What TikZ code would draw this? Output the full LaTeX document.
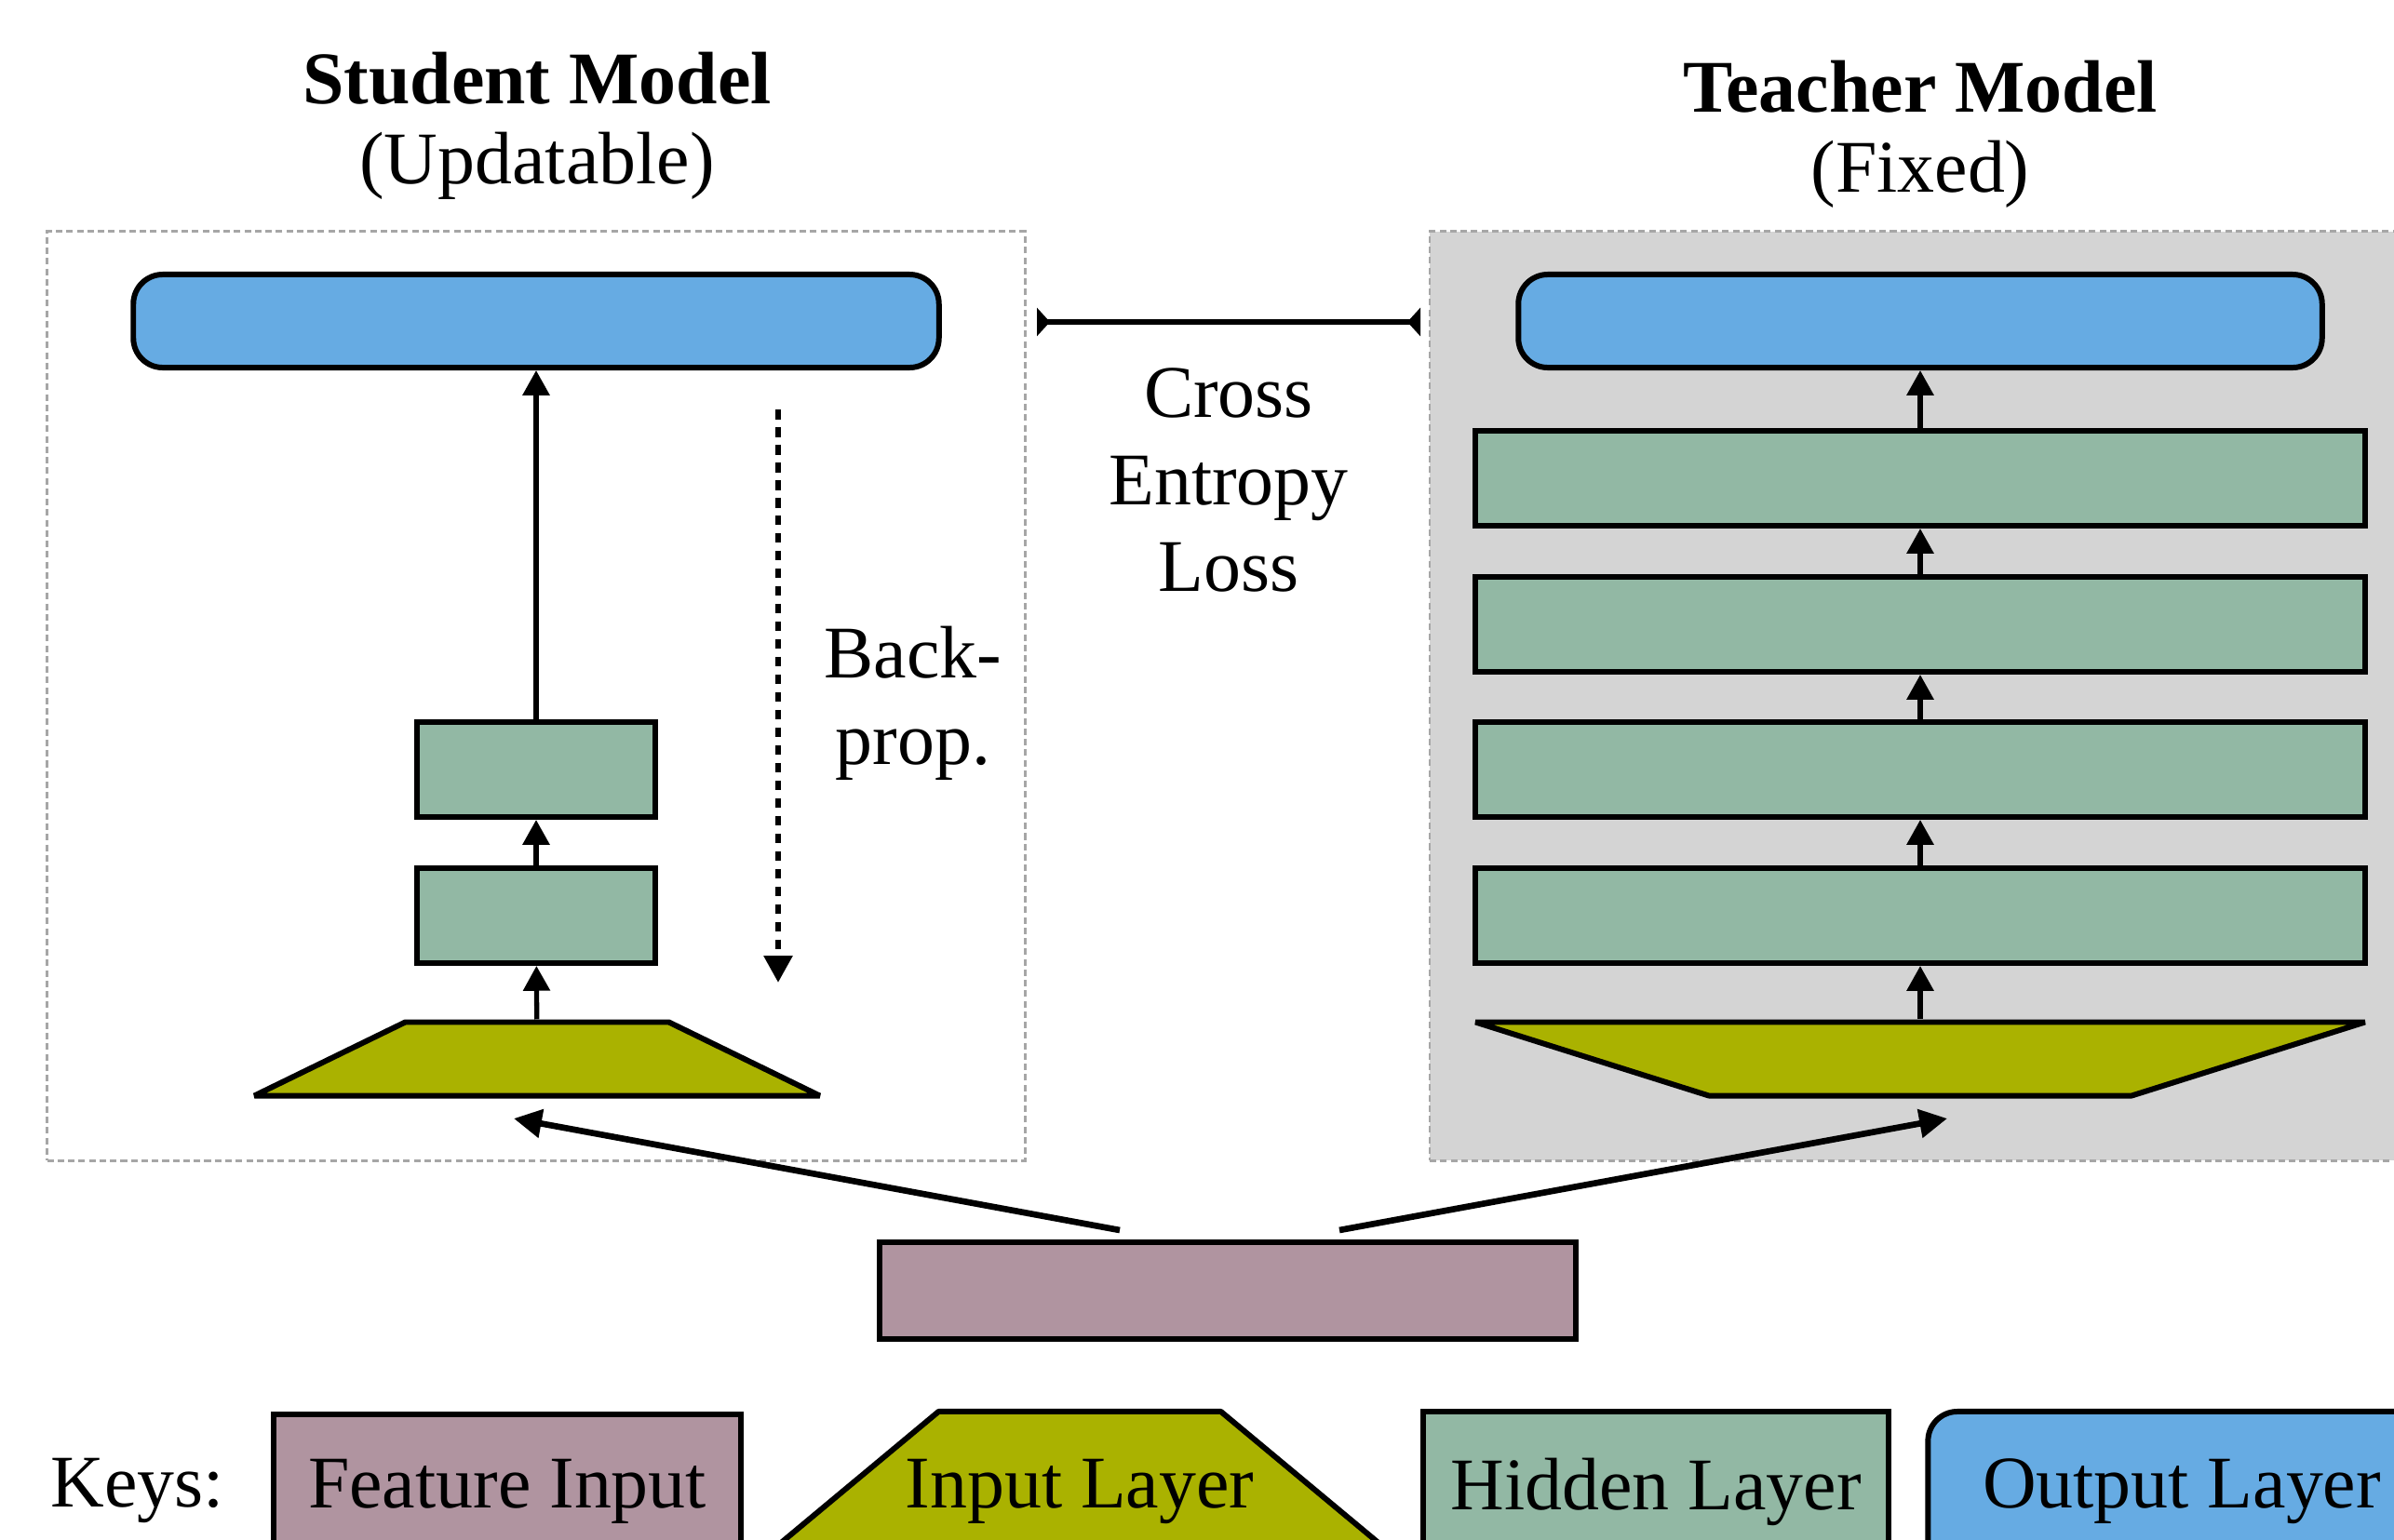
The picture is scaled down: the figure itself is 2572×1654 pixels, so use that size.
\documentclass[tikz,border=0pt]{standalone}
\usepackage{fontspec}
\setmainfont{Liberation Serif}
\usetikzlibrary{arrows.meta,shapes.geometric}

\definecolor{outblue}{RGB}{102,171,227}
\definecolor{hidgreen}{RGB}{146,184,164}
\definecolor{inolive}{RGB}{170,178,0}
\definecolor{featmauve}{RGB}{176,148,160}
\definecolor{fixedgray}{RGB}{212,212,212}

\begin{document}
\begin{tikzpicture}[x=0.01cm, y=-0.01cm,
    every node/.style={font=\fontsize{22.7}{26.5}\selectfont},
    hidden/.style={rectangle, draw, line width=1.7pt, fill=hidgreen, minimum height=1.02cm, inner sep=0pt},
    output/.style={rectangle, rounded corners=9pt, draw, line width=1.7pt, fill=outblue, minimum height=1cm, inner sep=0pt},
    input/.style={trapezium, trapezium stretches body=true, draw, line width=1.7pt, line join=bevel, fill=inolive, inner sep=0pt, text depth=0cm},
    feature/.style={rectangle, draw, line width=1.7pt, fill=featmauve, minimum height=1.04cm, inner sep=0pt},
    frame/.style={draw=gray!70, dash pattern=on 2pt off 1.2pt, line width=0.7pt, inner sep=0pt},
    flow/.style={-{Triangle[length=7.6pt,width=8pt]}, line width=1.5pt},
    feed/.style={-{Triangle[length=8.5pt,width=8.5pt]}, line width=1.9pt},
    loss/.style={{Triangle[reversed,length=4pt,width=8.5pt]}-{Triangle[reversed,length=4pt,width=8.5pt]}, line width=1.5pt},
    back/.style={-{Triangle[length=8.2pt,width=8.4pt]}, line width=1.9pt, dash pattern=on 3pt off 2.4pt},
]

    \useasboundingbox (0, 0) rectangle (2572, 1654);
    \clip (0, 0) rectangle (2572, 1654);

    \node[frame, minimum width=10.5cm, minimum height=9.98cm] (sbox) at (576, 748) {};
    \node[frame, fill=fixedgray, minimum width=10.73cm, minimum height=9.98cm] (tbox) at (2073, 748) {};

    \node[align=center] (stitle) at (577, 135) {\textbf{Student Model}\\[-0.07cm](Updatable)};
    \node[align=center] (ttitle) at (2063, 144) {\textbf{Teacher Model}\\[-0.07cm](Fixed)};

    \node[output, minimum width=8.65cm] (outS) at (576, 345) {};
    \node[hidden, minimum width=2.55cm] (S2) at (576, 827) {};
    \node[hidden, minimum width=2.55cm] (S1) at (576, 984) {};
    \node[input, trapezium angle=26, minimum width=6.07cm, text height=0.79cm] (inS) at (577, 1138) {};

    \node[output, minimum width=8.63cm] (outT) at (2063, 345) {};
    \node[hidden, minimum width=9.55cm] (T4) at (2063, 514) {};
    \node[hidden, minimum width=9.55cm] (T3) at (2063, 671) {};
    \node[hidden, minimum width=9.55cm] (T2) at (2063, 827) {};
    \node[hidden, minimum width=9.55cm] (T1) at (2063, 984) {};
    \node[input, trapezium angle=17.5, shape border rotate=180, minimum width=9.55cm, text height=0.79cm] (inT) at (2063, 1138) {};

    \node[feature, minimum width=7.47cm] (feat) at (1319, 1387) {};

    \draw[flow] (inS) -- (S1); % input -> hidden
    \draw[flow] (S1) -- (S2);  % hidden -> hidden
    \draw[flow] (S2) -- (outS); % hidden -> output

    \draw[flow] (inT) -- (T1);
    \draw[flow] (T1) -- (T2);
    \draw[flow] (T2) -- (T3);
    \draw[flow] (T3) -- (T4);
    \draw[flow] (T4) -- (outT);

    \coordinate (lossL) at (1114, 346);
    \coordinate (lossR) at (1526, 346);
    \draw[loss] (lossL) -- (lossR);
    \node[align=center] (lossText) at (1320, 516) {Cross\\Entropy\\Loss};

    \coordinate (bpTop) at (836, 440);
    \coordinate (bpBot) at (836, 1056);
    \draw[back] (bpTop) -- (bpBot);
    \node[align=center] (bpText) at (981, 756) {Back-\\prop.};

    \coordinate (featL) at (1203, 1322);
    \coordinate (featR) at (1439, 1322);
    \coordinate (toS) at (552, 1202);
    \coordinate (toT) at (2092, 1202);
    \draw[feed] (featL) -- (toS); % features -> student
    \draw[feed] (featR) -- (toT); % features -> teacher

    \node (keys) at (148, 1602) {Keys:};
    \node[feature, minimum width=5.01cm, minimum height=1.66cm] (kFeat) at (545, 1603) {Feature Input};
    \node[input, trapezium angle=39.8, minimum width=7.16cm, text height=1.72cm, label=center:Input Layer] (kIn) at (1160, 1603) {};
    \node[hidden, minimum width=4.99cm, minimum height=1.72cm] (kHid) at (1779, 1603) {Hidden Layer};
    \node[output, minimum width=5.45cm, minimum height=1.72cm] (kOut) at (2344, 1603) {Output Layer};
\end{tikzpicture}
\end{document}
